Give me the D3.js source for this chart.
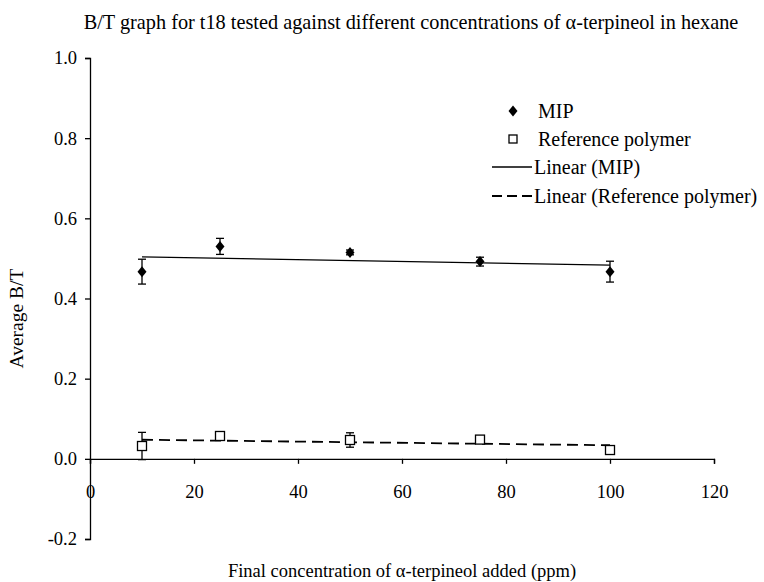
<!DOCTYPE html>
<html>
<head>
<meta charset="utf-8">
<script src="https://cdn.jsdelivr.net/npm/d3@7"></script>
<style>
  html, body { margin: 0; padding: 0; background: #fff; }
  svg text { font-family: "Liberation Serif", "Times New Roman", serif; fill: #000; }
</style>
</head>
<body>
<svg id="chart" width="764" height="582"></svg>
<script>
// Concentrations of α-terpineol (ppm)
const concentrations = [10, 25, 50, 75, 100];
// Average B/T and standard deviation for each polymer
const mipValues = [0.467, 0.530, 0.515, 0.492, 0.467];
const mipErrors = [0.031, 0.020, 0.006, 0.011, 0.026];
const refValues = [0.032, 0.057, 0.047, 0.048, 0.022];
const refErrors = [0.034, 0.010, 0.018, 0.006, 0.004];
// Axis ticks
const xTicks = [0, 20, 40, 60, 80, 100, 120];
const yTicks = [-0.2, 0.0, 0.2, 0.4, 0.6, 0.8, 1.0];

const svg = d3.select("#chart");
const x = d3.scaleLinear().domain([0, 120]).range([90, 714]);
const y = d3.scaleLinear().domain([-0.2, 1.0]).range([539, 58]);

// Least-squares fit for the trend lines
function linearFit(xs, ys) {
  const mx = d3.mean(xs), my = d3.mean(ys);
  let sxy = 0, sxx = 0;
  xs.forEach((v, i) => { sxy += (v - mx) * (ys[i] - my); sxx += (v - mx) * (v - mx); });
  const slope = sxy / sxx;
  return v => my + slope * (v - mx);
}

// Title
svg.append("text").attr("x", 411).attr("y", 29).attr("text-anchor", "middle")
  .attr("font-size", 20.3)
  .text("B/T graph for t18 tested against different concentrations of α-terpineol in hexane");

// Y axis (ticks on the left, labels right-aligned, plain hyphen for negatives)
const yAxis = d3.axisLeft(y).tickValues(yTicks).tickSize(5).tickPadding(8)
  .tickFormat(d => d.toFixed(1));
const gy = svg.append("g").attr("transform", `translate(${x(0)},0)`).call(yAxis);
gy.select(".domain").attr("stroke", "#000").attr("stroke-width", 1.3);
gy.selectAll(".tick line").attr("stroke", "#000").attr("stroke-width", 1.3);
gy.selectAll(".tick text").attr("font-size", 18.5);

// X axis drawn through y = 0, labels sit lower down
const xAxis = d3.axisBottom(x).tickValues(xTicks).tickSize(5).tickPadding(21)
  .tickFormat(d3.format("d"));
const gx = svg.append("g").attr("transform", `translate(0,${y(0)})`).call(xAxis);
gx.select(".domain").attr("stroke", "#000").attr("stroke-width", 1.3);
gx.selectAll(".tick line").attr("stroke", "#000").attr("stroke-width", 1.3);
gx.selectAll(".tick text").attr("font-size", 18.5);

// Axis titles
svg.append("text").attr("transform", `translate(23,${y(0.35)}) rotate(-90)`)
  .attr("text-anchor", "middle").attr("font-size", 19.5).text("Average B/T");
svg.append("text").attr("x", 402).attr("y", 577).attr("text-anchor", "middle")
  .attr("font-size", 18.5).text("Final concentration of α-terpineol added (ppm)");

// Trend lines over the measured range
const xmin = d3.min(concentrations), xmax = d3.max(concentrations);
const mipFit = linearFit(concentrations, mipValues);
const refFit = linearFit(concentrations, refValues);
svg.append("line")
  .attr("x1", x(xmin)).attr("y1", y(mipFit(xmin)))
  .attr("x2", x(xmax)).attr("y2", y(mipFit(xmax)))
  .attr("stroke", "#000").attr("stroke-width", 1.4);
svg.append("line")
  .attr("x1", x(xmin)).attr("y1", y(refFit(xmin)))
  .attr("x2", x(xmax)).attr("y2", y(refFit(xmax)))
  .attr("stroke", "#000").attr("stroke-width", 1.8).attr("stroke-dasharray", "11,6");

// Error bars
function errorBars(values, errors) {
  const g = svg.append("g").attr("stroke", "#000").attr("stroke-width", 1.3);
  concentrations.forEach((c, i) => {
    const cx = x(c), top = y(values[i] + errors[i]), bot = y(values[i] - errors[i]);
    g.append("line").attr("x1", cx).attr("x2", cx).attr("y1", top).attr("y2", bot);
    g.append("line").attr("x1", cx - 4).attr("x2", cx + 4).attr("y1", top).attr("y2", top);
    g.append("line").attr("x1", cx - 4).attr("x2", cx + 4).attr("y1", bot).attr("y2", bot);
  });
}
errorBars(mipValues, mipErrors);
errorBars(refValues, refErrors);

// MIP markers: filled diamonds
const diamond = "M0,-5.5L4.5,0L0,5.5L-4.5,0Z";
svg.append("g").selectAll("path").data(concentrations).join("path")
  .attr("d", diamond)
  .attr("transform", (d, i) => `translate(${x(d)},${y(mipValues[i])})`)
  .attr("fill", "#000");

// Reference polymer markers: open squares
svg.append("g").selectAll("rect").data(concentrations).join("rect")
  .attr("x", d => x(d) - 4.5)
  .attr("y", (d, i) => y(refValues[i]) - 4.5)
  .attr("width", 9).attr("height", 9)
  .attr("fill", "#fff").attr("stroke", "#000").attr("stroke-width", 1.3);

// Legend
const legend = svg.append("g");
legend.append("path").attr("d", diamond).attr("transform", "translate(513,111)").attr("fill", "#000");
legend.append("text").attr("x", 538).attr("y", 118).attr("font-size", 20).text("MIP");
legend.append("rect").attr("x", 509).attr("y", 135).attr("width", 8).attr("height", 8)
  .attr("fill", "#fff").attr("stroke", "#000").attr("stroke-width", 1.3);
legend.append("text").attr("x", 538).attr("y", 146).attr("font-size", 20).text("Reference polymer");
legend.append("line").attr("x1", 492).attr("x2", 532).attr("y1", 167).attr("y2", 167)
  .attr("stroke", "#000").attr("stroke-width", 1.4);
legend.append("text").attr("x", 534).attr("y", 174).attr("font-size", 20).text("Linear (MIP)");
legend.append("line").attr("x1", 492).attr("x2", 532).attr("y1", 196).attr("y2", 196)
  .attr("stroke", "#000").attr("stroke-width", 1.8).attr("stroke-dasharray", "10,5");
legend.append("text").attr("x", 534).attr("y", 203).attr("font-size", 20).text("Linear (Reference polymer)");
</script>
</body>
</html>
